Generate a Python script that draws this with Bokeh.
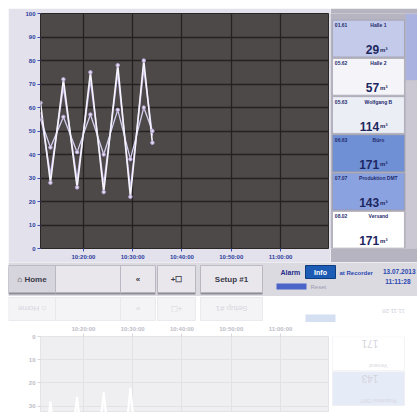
import datetime as dt
import math
from bokeh.plotting import figure
from bokeh.models import Range1d, FixedTicker, DatetimeTickFormatter, ColumnDataSource, Spacer
from bokeh.layouts import column, row
from bokeh.embed import file_html
from bokeh.resources import INLINE
from bokeh.core.properties import value

# ---------------- data ----------------
DAY = "2013-07-13 "
times = ["10:11:17", "10:13:18", "10:15:56", "10:18:43", "10:21:25",
         "10:24:07", "10:26:58", "10:29:32", "10:32:15", "10:34:00"]
series_a = [62, 28, 72, 26, 75, 24, 78, 22, 80, 45]
series_b = [58, 31, 69, 29, 72, 27, 75, 25, 77, 48]
series_c = [55, 43, 56, 41, 57, 40, 59, 38, 60, 50]
y_ticks = [0, 10, 20, 30, 40, 50, 60, 70, 80, 90, 100]
x_tick_labels = ["10:20:00", "10:30:00", "10:40:00", "10:50:00", "11:00:00"]
x_start = "10:11:17"
x_end = "11:09:45"

tile_codes = ["01.61", "05.62", "05.63", "06.63", "07.07", "08.02"]
tile_names = ["Halle 1", "Halle 2", "Wolfgang B", "Büro", "Produktion DMT", "Versand"]
tile_values = ["29", "57", "114", "171", "143", "171"]
tile_unit = "m³"
tile_colors = ["#c4cbea", "#f5f5f9", "#eceef5", "#7090d6", "#8ba2e0", "#ffffff"]

button_labels = ["⌂ Home", "", "«", "+☐", "Setup #1"]
status_alarm = "Alarm"
status_info = "Info"
status_reset = "Reset"
status_rec = "at Recorder"
status_date = "13.07.2013"
status_time = "11:11:28"

FONT = value("Liberation Sans")
EPOCH = dt.datetime(1970, 1, 1)


def ms(s):
    return (dt.datetime.strptime(DAY + s, "%Y-%m-%d %H:%M:%S") - EPOCH).total_seconds() * 1000.0


tick_ms = [ms(s) for s in x_tick_labels]
fmt = "%H:%M:%S"


def style_axes(fig, color, tick_color):
    for ax in fig.axis:
        ax.axis_line_color = None
        ax.major_tick_line_color = tick_color
        ax.major_tick_in = 0
        ax.major_tick_out = 3
        ax.minor_tick_line_color = None
        ax.major_label_text_color = color
        ax.major_label_text_font_size = "6px"
        ax.major_label_text_font_style = "bold"
        ax.major_label_text_font = "Liberation Sans"
        ax.major_label_standoff = 2


def bare(fig, bg):
    fig.background_fill_color = bg
    fig.border_fill_color = bg
    fig.outline_line_color = None
    fig.grid.visible = False


# ---------------- main chart ----------------
p = figure(width=322, height=254, x_axis_type="datetime",
           x_range=Range1d(ms(x_start), ms(x_end)), y_range=Range1d(0, 100),
           output_backend="svg", toolbar_location=None,
           min_border_left=32, min_border_right=2, min_border_top=5, min_border_bottom=14)
p.background_fill_color = "#4e4949"
p.border_fill_color = "#e3e1eb"
p.outline_line_color = "#2a2626"
p.xaxis.ticker = FixedTicker(ticks=tick_ms)
p.xaxis.formatter = DatetimeTickFormatter(seconds=fmt, minsec=fmt, minutes=fmt, hourmin=fmt, hours=fmt)
p.xgrid.ticker = FixedTicker(ticks=tick_ms)
p.yaxis.ticker = FixedTicker(ticks=y_ticks)
style_axes(p, "#2b3d9e", "#3b4fb0")
p.grid.grid_line_color = "#262222"
p.grid.grid_line_width = 1.3

src = ColumnDataSource(dict(t=[ms(s) for s in times], a=series_a, b=series_b, c=series_c))
p.line("t", "b", source=src, line_color="#bcaee0", line_width=1.6)
p.line("t", "c", source=src, line_color="#d4cfee", line_width=1.3)
p.line("t", "a", source=src, line_color="#f6f4fc", line_width=1.6)
p.scatter("t", "a", source=src, size=3.5, fill_color="#e6def0", line_color="#b4a4d6")
p.scatter("t", "c", source=src, size=3.5, fill_color="#e6def0", line_color="#b4a4d6")

# ---------------- channel tiles ----------------
n = len(tile_names)
idx = list(range(n))
TL, TR = 0.023, 0.85
pn = figure(width=87, height=254, x_range=Range1d(0, 1), y_range=Range1d(n, -0.145),
            output_backend="svg", toolbar_location=None,
            x_axis_location=None, y_axis_location=None, min_border=0)
bare(pn, "#b6b4c0")
pn.quad(left=[0.865, 0.865], right=[1.0, 1.0], top=[-0.145, 1.6], bottom=[1.6, n],
        fill_color=["#aab3e0", "#cbc8d3"], line_color=None)
tsrc = ColumnDataSource(dict(
    top=[i + 0.03 for i in idx], bottom=[i + 0.99 for i in idx], color=tile_colors,
    ty=[i + 0.16 for i in idx], vy=[i + 0.8 for i in idx],
    code=tile_codes, name=tile_names, val=tile_values, unit=[tile_unit] * n))
pn.quad(left=TL, right=TR, top="top", bottom="bottom", fill_color="color",
        line_color="#9a98a6", line_width=0.6, source=tsrc)
pn.text(x=0.05, y="ty", text="code", source=tsrc, text_font=FONT, text_font_size="5px",
        text_font_style="bold", text_color="#1f2b6e", text_baseline="middle", text_align="left")
pn.text(x=0.55, y="ty", text="name", source=tsrc, text_font=FONT, text_font_size="5px",
        text_font_style="bold", text_color="#1f2b6e", text_baseline="middle", text_align="center")
pn.text(x=0.56, y="vy", text="val", source=tsrc, text_font=FONT, text_font_size="12px",
        text_font_style="bold", text_color="#1c2760", text_baseline="middle", text_align="right")
pn.text(x=0.57, y="vy", text="unit", source=tsrc, text_font=FONT, text_font_size="6px",
        text_font_style="bold", text_color="#1c2760", text_baseline="middle", text_align="left")

# ---------------- button bar ----------------
bx_left = [0, 47, 112, 149, 192]
bx_right = [47, 112, 147, 187, 254]
bx_fill = ["#d6d4dc", "#e9e7ec", "#e9e7ec", "#e9e7ec", "#e9e7ec"]
bar = figure(width=409, height=34, x_range=Range1d(0, 409), y_range=Range1d(0, 34),
             output_backend="svg", toolbar_location=None,
             x_axis_location=None, y_axis_location=None, min_border=0)
bare(bar, "#dcdae1")
bsrc = ColumnDataSource(dict(l=bx_left, r=bx_right, lab=button_labels, fill=bx_fill,
                             cx=[(a + b) / 2 for a, b in zip(bx_left, bx_right)]))
bar.quad(left="l", right="r", top=29, bottom=2, source=bsrc, fill_color="#8e8c96", line_color=None)
bar.quad(left="l", right="r", top=31, bottom=4, source=bsrc, fill_color="fill",
         line_color="#b4b2bc", line_width=0.8)
bar.text(x="cx", y=17, text="lab", source=bsrc, text_font=FONT, text_font_size="8px",
         text_font_style="bold", text_color="#3a3a48", text_baseline="middle", text_align="center")
bar.quad(left=[268], right=[298], top=[13], bottom=[7], fill_color="#4a64c8", line_color=None)
bar.quad(left=[297], right=[327], top=[31], bottom=[18], fill_color="#1d5cb4", line_color="#0e3c80")
bar.text(x=[272], y=[24], text=[status_alarm], text_font=FONT, text_font_size="7px",
         text_font_style="bold", text_color="#1f2f8a", text_baseline="middle")
bar.text(x=[312], y=[24.5], text=[status_info], text_font=FONT, text_font_size="7px",
         text_font_style="bold", text_color="#ffffff", text_baseline="middle", text_align="center")
bar.text(x=[302], y=[10], text=[status_reset], text_font=FONT, text_font_size="6px",
         text_color="#9a9aae", text_baseline="middle")
bar.text(x=[331], y=[24], text=[status_rec], text_font=FONT, text_font_size="6px",
         text_font_style="bold", text_color="#2a48b0", text_baseline="middle")
bar.text(x=[407], y=[25], text=[status_date], text_font=FONT, text_font_size="6.5px",
         text_font_style="bold", text_color="#2a48b0", text_baseline="middle", text_align="right")
bar.text(x=[402], y=[15], text=[status_time], text_font=FONT, text_font_size="6.5px",
         text_font_style="bold", text_color="#2a48b0", text_baseline="middle", text_align="right")

# ---------------- reflection of button bar ----------------
rb = figure(width=409, height=26, x_range=Range1d(0, 409), y_range=Range1d(0, 26),
            output_backend="svg", toolbar_location=None,
            x_axis_location=None, y_axis_location=None, min_border=0)
bare(rb, "#ffffff")
rb.quad(left="l", right="r", top=25, bottom=2, source=bsrc, fill_color="#f4f3f6",
        line_color="#e6e5ea", line_width=0.8)
rb.quad(left=[297], right=[327], top=[8], bottom=[0], fill_color="#d4e0f2", line_color=None)
rb.text(x="cx", y=14, text="lab", source=bsrc, angle=math.pi, text_font=FONT, text_font_size="8px",
        text_color="#d6d6de", text_baseline="middle", text_align="center")
rb.text(x=[385], y=[12], text=[status_time], angle=math.pi, text_font=FONT, text_font_size="6px",
        text_color="#d0d0dc", text_baseline="middle", text_align="center")

# ---------------- reflection of chart ----------------
rp = figure(width=322, height=90, x_axis_type="datetime", x_axis_location="above",
            x_range=Range1d(ms(x_start), ms(x_end)), y_range=Range1d(32.8, 0),
            output_backend="svg", toolbar_location=None,
            min_border_left=32, min_border_right=2, min_border_top=13, min_border_bottom=0)
rp.background_fill_color = "#efeff1"
rp.border_fill_color = "#ffffff"
rp.outline_line_color = "#e4e4e8"
rp.xaxis.ticker = FixedTicker(ticks=tick_ms)
rp.xaxis.formatter = DatetimeTickFormatter(seconds=fmt, minsec=fmt, minutes=fmt, hourmin=fmt, hours=fmt)
rp.xgrid.ticker = FixedTicker(ticks=tick_ms)
rp.yaxis.ticker = FixedTicker(ticks=y_ticks)
style_axes(rp, "#bdbdc6", "#d6d6dc")
rp.grid.grid_line_color = "#e2e2e6"
rp.grid.grid_line_width = 1.0
rp.line("t", "b", source=src, line_color="#f8f8fb", line_width=1.8)
rp.line("t", "a", source=src, line_color="#ffffff", line_width=2.0)

# ---------------- reflection of tiles ----------------
shown = [4, 5]
rsrc = ColumnDataSource(dict(
    top=[i + 0.03 for i in shown], bottom=[i + 0.99 for i in shown],
    color=[tile_colors[i] for i in shown],
    ty=[i + 0.16 for i in shown], vy=[i + 0.8 for i in shown],
    name=[tile_names[i] for i in shown], val=[tile_values[i] for i in shown]))
rpn = figure(width=87, height=90, x_range=Range1d(0, 1), y_range=Range1d(3.83, n),
             output_backend="svg", toolbar_location=None,
             x_axis_location=None, y_axis_location=None, min_border=0)
bare(rpn, "#ffffff")
rpn.quad(left=TL, right=TR, top="top", bottom="bottom", fill_color="color", fill_alpha=0.22,
         line_color="#ececf0", line_width=0.6, source=rsrc)
rpn.text(x=0.55, y="vy", text="val", source=rsrc, angle=math.pi, text_font=FONT, text_font_size="10px",
         text_color="#d4d4dc", text_baseline="middle", text_align="left")
rpn.text(x=0.55, y="ty", text="name", source=rsrc, angle=math.pi, text_font=FONT, text_font_size="5px",
         text_color="#d8d8e0", text_baseline="middle", text_align="center")

content = column(row(p, pn), bar, rb, row(rp, rpn))
layout = column(Spacer(height=8), row(Spacer(width=8), content))
open("out.html", "w").write(file_html(layout, INLINE))
